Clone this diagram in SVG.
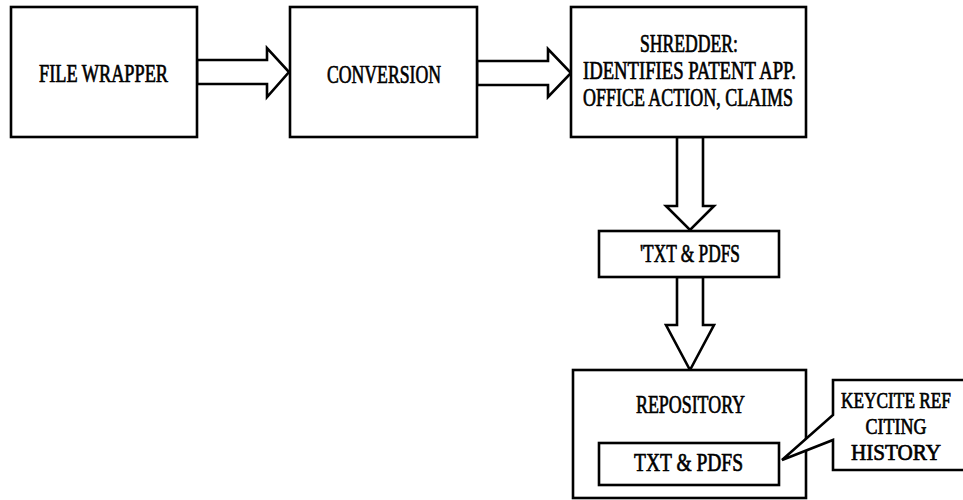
<svg xmlns="http://www.w3.org/2000/svg" width="963" height="500" viewBox="0 0 963 500">
<style>
.box{fill:#fff;stroke:#000;stroke-width:2.6}
.arr{fill:#fff;stroke:#000;stroke-width:2.6;stroke-linejoin:miter}
.t{font-family:"Liberation Serif","DejaVu Serif","Times New Roman",serif;font-size:25px;font-weight:normal;fill:#000;stroke:#000;stroke-width:0.7;text-anchor:middle}
.s{font-size:23px}
</style>
<rect width="963" height="500" fill="#fff"/>
<g id="connectors">
<polygon class="arr" points="197,60 267,60 267,48 289,72 267,97 267,84 197,84"/>
<polygon class="arr" points="477,61 548,61 548,49 571,73 548,97 548,85 477,85"/>
<polygon class="arr" points="677,137 703,137 703,206 714,206 690,230 666,206 677,206"/>
<polygon class="arr" points="677,277 703,277 703,325 714,325 690,370 666,325 677,325"/>
</g>
<g id="file-wrapper">
<rect class="box" x="11" y="7" width="186" height="130"/>
<text class="t" x="103.5" y="82" textLength="129" lengthAdjust="spacingAndGlyphs">FILE WRAPPER</text>
</g>
<g id="conversion">
<rect class="box" x="290" y="7" width="187" height="130"/>
<text class="t" x="384" y="83" textLength="114" lengthAdjust="spacingAndGlyphs">CONVERSION</text>
</g>
<g id="shredder">
<rect class="box" x="571" y="7" width="235" height="130"/>
<text class="t" x="689" y="52" textLength="98" lengthAdjust="spacingAndGlyphs">SHREDDER:</text>
<text class="t" x="689.5" y="79" textLength="213" lengthAdjust="spacingAndGlyphs">IDENTIFIES PATENT APP.</text>
<text class="t" x="688" y="106" textLength="210" lengthAdjust="spacingAndGlyphs">OFFICE ACTION, CLAIMS</text>
</g>
<g id="txt-pdfs">
<rect class="box" x="599" y="231" width="180" height="46"/>
<text class="t" x="690" y="262" textLength="100" lengthAdjust="spacingAndGlyphs">'TXT &amp; PDFS</text>
</g>
<g id="repository">
<rect class="box" x="573" y="370" width="233" height="128"/>
<text class="t" x="690.5" y="413" textLength="109" lengthAdjust="spacingAndGlyphs">REPOSITORY</text>
</g>
<g id="repository-txt-pdfs">
<rect class="box" x="599" y="443" width="180" height="42"/>
<text class="t" x="688.5" y="471" textLength="109" lengthAdjust="spacingAndGlyphs">TXT &amp; PDFS</text>
</g>
<g id="keycite">
<polygon class="box" points="782,460 833,415 833,380 975,380 975,470 833,470 833,440"/>
<text class="t s" x="896" y="408" textLength="110" lengthAdjust="spacingAndGlyphs">KEYCITE REF</text>
<text class="t s" x="896" y="434" textLength="61" lengthAdjust="spacingAndGlyphs">CITING</text>
<text class="t s" x="896" y="460" textLength="90" lengthAdjust="spacingAndGlyphs">HISTORY</text>
</g>
</svg>
